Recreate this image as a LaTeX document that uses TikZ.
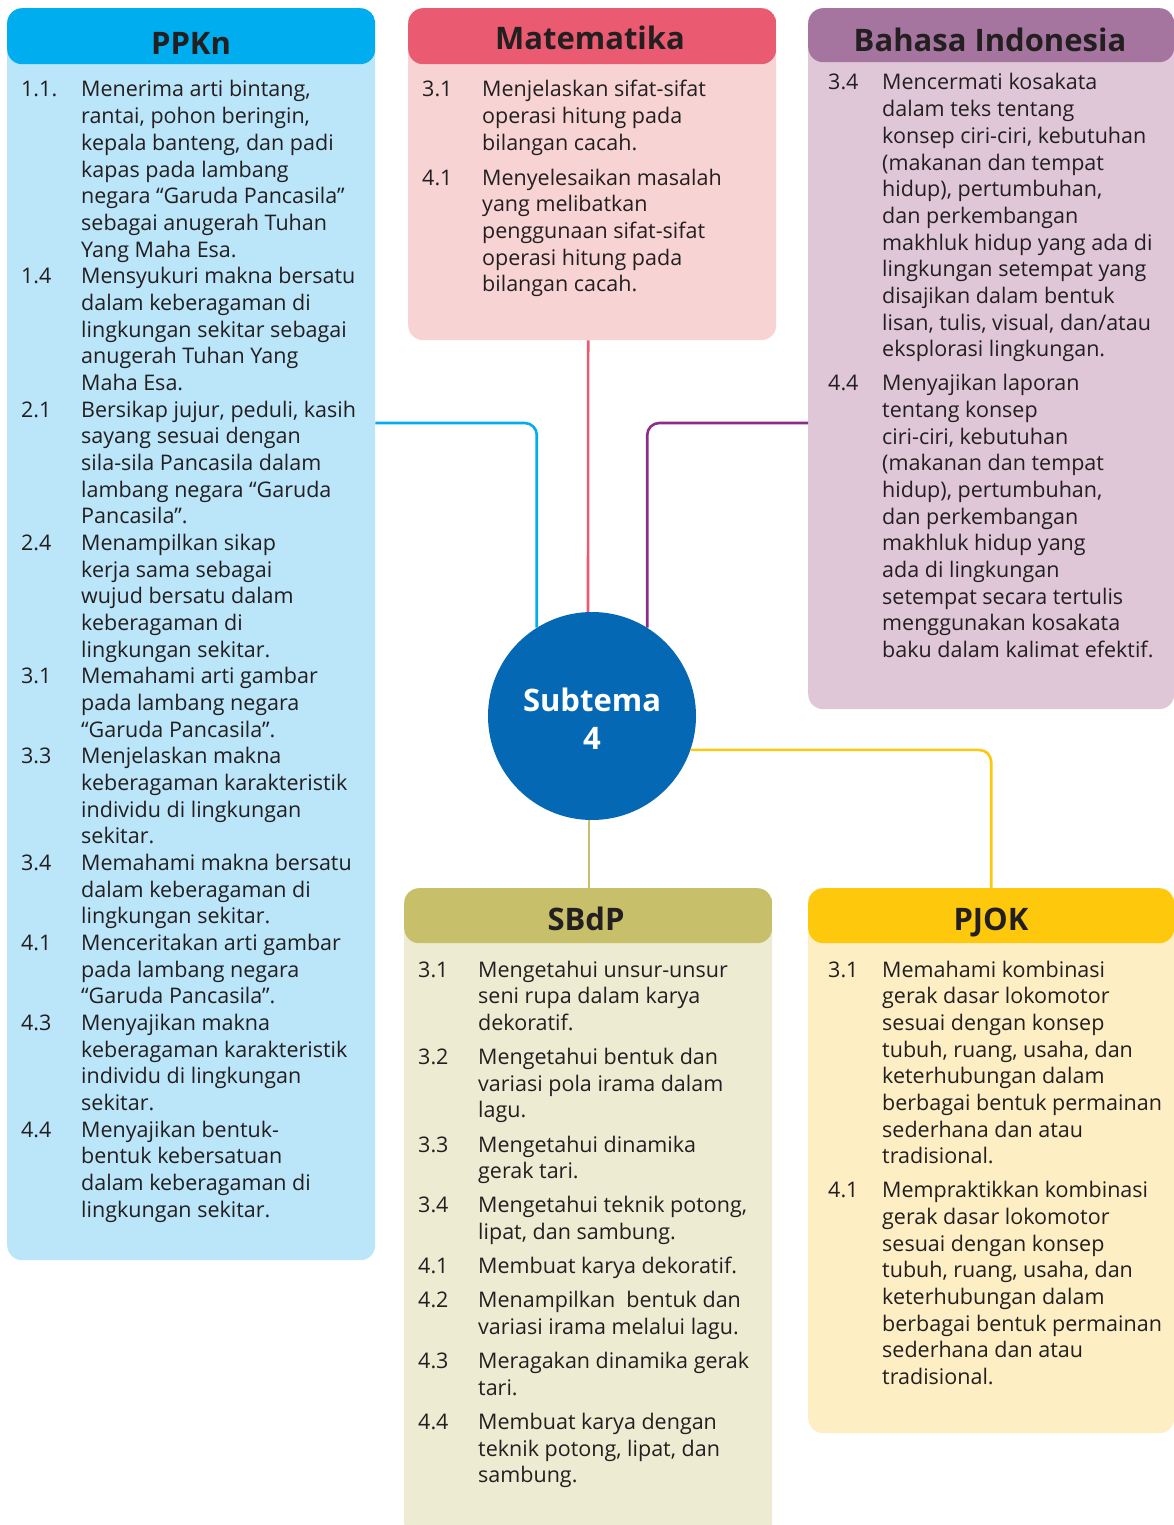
\documentclass[tikz,border=0pt]{standalone}
\usepackage{fontspec}
\setmainfont{Open Sans}
\definecolor{ppknH}{HTML}{00AEEF}
\definecolor{ppknB}{HTML}{BBE5F9}
\definecolor{matH}{HTML}{EA5A71}
\definecolor{matB}{HTML}{F8D3D3}
\definecolor{biH}{HTML}{A5759F}
\definecolor{biB}{HTML}{E0C7D8}
\definecolor{biL}{HTML}{8B2D86}
\definecolor{sbH}{HTML}{C8BF6A}
\definecolor{sbB}{HTML}{EEEBD3}
\definecolor{pjH}{HTML}{FEC90C}
\definecolor{pjB}{HTML}{FDEEC4}
\definecolor{circ}{HTML}{0468B4}
\definecolor{ink}{HTML}{231F20}
\newlength\numw
\newcommand\itm[2]{\par\noindent\hangindent=\numw\hangafter=1\makebox[\numw][l]{#1}#2\par}
\newenvironment{itembox}[2]{\begin{minipage}[t]{500pt}\fontsize{21.5}{26.67}\selectfont\setlength\numw{#1}\setlength\parskip{#2}}{\end{minipage}}
\tikzset{
  subjbox/.style={draw=none, rounded corners=15pt, anchor=north west, inner sep=0pt},
  ttl/.style={anchor=base, inner sep=0pt, font=\bfseries\fontsize{31}{36}\selectfont, text=ink},
  body/.style={anchor=base west, inner sep=0pt, text=ink},
  conn/.style={line width=2.6pt, rounded corners=12pt},
}
\begin{document}
\begin{tikzpicture}[x=1pt,y=-1pt]
\useasboundingbox (0,0) rectangle (1174,1525);
% boxes
\node[subjbox, fill=ppknB, minimum width=368pt, minimum height=1252pt,
  path picture={\fill[ppknH] (path picture bounding box.north west) rectangle ([yshift=-56pt]path picture bounding box.north east);}] (ppkn) at (7,8) {};
\node[subjbox, fill=matB, minimum width=368pt, minimum height=332pt,
  path picture={\fill[matH] (path picture bounding box.north west) rectangle ([yshift=-56pt]path picture bounding box.north east);}] (mat) at (408,8) {};
\node[subjbox, fill=biB, minimum width=366pt, minimum height=701pt,
  path picture={\fill[biH] (path picture bounding box.north west) rectangle ([yshift=-54pt]path picture bounding box.north east);}] (bi) at (808,8) {};
\node[subjbox, fill=sbB, minimum width=368pt, minimum height=650pt,
  path picture={\fill[sbH] (path picture bounding box.north west) rectangle ([yshift=-55pt]path picture bounding box.north east);}] (sbdp) at (404,888) {};
\node[subjbox, fill=pjB, minimum width=366pt, minimum height=545pt,
  path picture={\fill[pjH] (path picture bounding box.north west) rectangle ([yshift=-55pt]path picture bounding box.north east);}] (pjok) at (808,888) {};
% centre
\node[circle, fill=circ, minimum size=208pt, inner sep=0pt] (sub) at (592,716) {};
\node[anchor=base, inner sep=0pt, text=white, font=\bfseries\fontsize{31}{36}\selectfont] (subA) at (592,711.5) {Subtema};
\node[anchor=base, inner sep=0pt, text=white, font=\bfseries\fontsize{31}{36}\selectfont] (subB) at (592,749.5) {4};
% connectors
\draw[conn, ppknH] (ppkn.east |- 0,423) -| (sub.122);
\draw[conn, matH] ([xshift=-4pt]mat.south) -- ([xshift=-4pt]sub.north);
\draw[conn, biL] (bi.west |- 0,423) -| (sub.58);
\draw[conn, sbH] ([xshift=-3pt]sub.south) -- ([xshift=-3pt]sub.south |- sbdp.north);
\draw[conn, pjH] (sub.-19) -| (pjok.north);
% titles
\node[ttl] (ppknT) at (191,55) {PPKn};
\node[ttl] (matT) at (590,50) {Matematika};
\node[ttl] (biT) at (990,51.5) {Bahasa Indonesia};
\node[ttl] (sbT) at (586,930) {SBdP};
\node[ttl] (pjT) at (991,930) {PJOK};
% texts
\node[body] (ppknX) at (21,97) {\begin{itembox}{60pt}{0pt}
\itm{1.1.}{Menerima arti bintang,\\ rantai, pohon beringin,\\ kepala banteng, dan padi\\ kapas pada lambang\\ negara “Garuda Pancasila”\\ sebagai anugerah Tuhan\\ Yang Maha Esa.}
\itm{1.4}{Mensyukuri makna bersatu\\ dalam keberagaman di\\ lingkungan sekitar sebagai\\ anugerah Tuhan Yang\\ Maha Esa.}
\itm{2.1}{Bersikap jujur, peduli, kasih\\ sayang sesuai dengan\\ sila-sila Pancasila dalam\\ lambang negara “Garuda\\ Pancasila”.}
\itm{2.4}{Menampilkan sikap\\ kerja sama sebagai\\ wujud bersatu dalam\\ keberagaman di\\ lingkungan sekitar.}
\itm{3.1}{Memahami arti gambar\\ pada lambang negara\\ “Garuda Pancasila”.}
\itm{3.3}{Menjelaskan makna\\ keberagaman karakteristik\\ individu di lingkungan\\ sekitar.}
\itm{3.4}{Memahami makna bersatu\\ dalam keberagaman di\\ lingkungan sekitar.}
\itm{4.1}{Menceritakan arti gambar\\ pada lambang negara\\ “Garuda Pancasila”.}
\itm{4.3}{Menyajikan makna\\ keberagaman karakteristik\\ individu di lingkungan\\ sekitar.}
\itm{4.4}{Menyajikan bentuk-\\ bentuk kebersatuan\\ dalam keberagaman di\\ lingkungan sekitar.}
\end{itembox}};
\node[body] (matX) at (422,97) {\begin{itembox}{60pt}{8pt}
\itm{3.1}{Menjelaskan sifat-sifat\\ operasi hitung pada\\ bilangan cacah.}
\itm{4.1}{Menyelesaikan masalah\\ yang melibatkan\\ penggunaan sifat-sifat\\ operasi hitung pada\\ bilangan cacah.}
\end{itembox}};
\node[body] (biX) at (828,90) {\begin{itembox}{54pt}{7.5pt}
\itm{3.4}{Mencermati kosakata\\ dalam teks tentang\\ konsep ciri-ciri, kebutuhan\\ (makanan dan tempat\\ hidup), pertumbuhan,\\ dan perkembangan\\ makhluk hidup yang ada di\\ lingkungan setempat yang\\ disajikan dalam bentuk\\ lisan, tulis, visual, dan/atau\\ eksplorasi lingkungan.}
\itm{4.4}{Menyajikan laporan\\ tentang konsep\\ ciri-ciri, kebutuhan\\ (makanan dan tempat\\ hidup), pertumbuhan,\\ dan perkembangan\\ makhluk hidup yang\\ ada di lingkungan\\ setempat secara tertulis\\ menggunakan kosakata\\ baku dalam kalimat efektif.}
\end{itembox}};
\node[body] (sbX) at (418,977) {\begin{itembox}{60pt}{7.5pt}
\itm{3.1}{Mengetahui unsur-unsur\\ seni rupa dalam karya\\ dekoratif.}
\itm{3.2}{Mengetahui bentuk dan\\ variasi pola irama dalam\\ lagu.}
\itm{3.3}{Mengetahui dinamika\\ gerak tari.}
\itm{3.4}{Mengetahui teknik potong,\\ lipat, dan sambung.}
\itm{4.1}{Membuat karya dekoratif.}
\itm{4.2}{Menampilkan\ \ bentuk dan\\ variasi irama melalui lagu.}
\itm{4.3}{Meragakan dinamika gerak\\ tari.}
\itm{4.4}{Membuat karya dengan\\ teknik potong, lipat, dan\\ sambung.}
\end{itembox}};
\node[body] (pjX) at (828,977) {\begin{itembox}{54pt}{7.5pt}
\itm{3.1}{Memahami kombinasi\\ gerak dasar lokomotor\\ sesuai dengan konsep\\ tubuh, ruang, usaha, dan\\ keterhubungan dalam\\ berbagai bentuk permainan\\ sederhana dan atau\\ tradisional.}
\itm{4.1}{Mempraktikkan kombinasi\\ gerak dasar lokomotor\\ sesuai dengan konsep\\ tubuh, ruang, usaha, dan\\ keterhubungan dalam\\ berbagai bentuk permainan\\ sederhana dan atau\\ tradisional.}
\end{itembox}};
\end{tikzpicture}
\end{document}
